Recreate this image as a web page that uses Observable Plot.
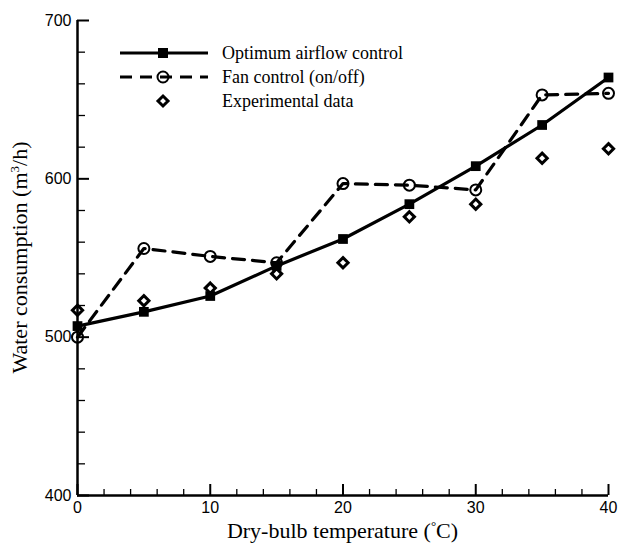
<!DOCTYPE html>
<html>
<head>
<meta charset="utf-8">
<script src="https://cdn.jsdelivr.net/npm/d3@7"></script>
<script src="https://cdn.jsdelivr.net/npm/@observablehq/plot@0.6"></script>
<style>
  html, body { margin: 0; padding: 0; background: #fff; }
  #chart svg { display: block; }
</style>
</head>
<body>
<div id="chart"></div>
<script>
// Data
const temperatures = [0, 5, 10, 15, 20, 25, 30, 35, 40];
const optimumAirflow = [507, 516, 526, 545, 562, 584, 608, 634, 664];
const fanControl = [500, 556, 551, 547, 597, 596, 593, 653, 654];
const experimental = [517, 523, 531, 540, 547, 576, 584, 613, 619];

const xTickLabels = [0, 10, 20, 30, 40];
const yTickLabels = [400, 500, 600, 700];
const xMinorTicks = d3.range(0, 41, 2).filter(v => v % 10 !== 0);
const yMinorTicks = d3.range(400, 701, 20).filter(v => v % 100 !== 0);

const seriesNames = ["Optimum airflow control", "Fan control (on/off)", "Experimental data"];
const xTitle = "Dry-bulb temperature";
const yTitle = "Water consumption";

const optRows = temperatures.map((t, i) => ({t, v: optimumAirflow[i]}));
const fanRows = temperatures.map((t, i) => ({t, v: fanControl[i]}));
const expRows = temperatures.map((t, i) => ({t, v: experimental[i]}));

const W = 621, H = 545;
const mL = 77, mR = 13, mT = 20, mB = 50;

const sans = "'Liberation Sans', Arial, sans-serif";
const serif = "'Liberation Serif', 'Times New Roman', serif";

const chart = Plot.plot({
  width: W,
  height: H,
  marginLeft: mL,
  marginRight: mR,
  marginTop: mT,
  marginBottom: mB,
  style: {fontFamily: sans, fontSize: "16px", color: "black", background: "white"},
  x: {domain: [0, 40]},
  y: {domain: [400, 700]},
  marks: [
    // tick labels
    Plot.axisX(xTickLabels, {tickSize: 0, tickPadding: 6, fontSize: 16, label: null}),
    Plot.axisY(yTickLabels, {tickSize: 0, tickPadding: 6, fontSize: 16, label: null}),
    // inward ticks
    Plot.axisX(xTickLabels, {tickSize: -11, text: null, strokeWidth: 2, label: null}),
    Plot.axisX(xMinorTicks, {tickSize: -6, text: null, strokeWidth: 1.3, label: null}),
    Plot.axisY(yTickLabels, {tickSize: -12, text: null, strokeWidth: 2, label: null}),
    Plot.axisY(yMinorTicks, {tickSize: -8, text: null, strokeWidth: 1.3, label: null}),
    // axis lines
    Plot.ruleX([0], {stroke: "black", strokeWidth: 2.5}),
    Plot.ruleY([400], {stroke: "black", strokeWidth: 2.5}),
    // series
    Plot.line(optRows, {x: "t", y: "v", stroke: "black", strokeWidth: 3.2}),
    Plot.line(fanRows, {x: "t", y: "v", stroke: "black", strokeWidth: 3.2, strokeDasharray: "12,8"}),
    Plot.dot(optRows, {x: "t", y: "v", symbol: "square", fill: "black", r: 5.5}),
    Plot.dot(fanRows, {x: "t", y: "v", symbol: "circle", fill: "none", stroke: "black", strokeWidth: 2, r: 5.5}),
    Plot.dot(expRows, {x: "t", y: "v", symbol: "diamond2", fill: "none", stroke: "black", strokeWidth: 3, r: 4.6})
  ]
});

document.getElementById("chart").appendChild(chart);

// Axis titles and legend
const svg = d3.select(chart);

const xt = svg.append("text")
  .attr("x", (mL + (W - mR)) / 2)
  .attr("y", 538)
  .attr("text-anchor", "middle")
  .style("font-family", serif)
  .style("font-size", "22px")
  .attr("fill", "black");
xt.append("tspan").text(xTitle + " (");
xt.append("tspan").attr("dy", -8).style("font-size", "13px").text("°");
xt.append("tspan").attr("dy", 8).text("C)");

const yt = svg.append("text")
  .attr("transform", `translate(27,${(mT + (H - mB)) / 2}) rotate(-90)`)
  .attr("text-anchor", "middle")
  .style("font-family", serif)
  .style("font-size", "22px")
  .attr("fill", "black");
yt.append("tspan").text(yTitle + " (m");
yt.append("tspan").attr("dy", -8).style("font-size", "13px").text("3");
yt.append("tspan").attr("dy", 8).text("/h)");

const legendRows = [53, 77, 101];
const lx1 = 120, lx2 = 208, lxm = 163, ltx = 222;
const lg = svg.append("g").attr("text-anchor", "start");
// row 1: solid line + square
lg.append("line").attr("x1", lx1).attr("x2", lx2).attr("y1", legendRows[0]).attr("y2", legendRows[0])
  .attr("stroke", "black").attr("stroke-width", 3.2);
lg.append("rect").attr("x", lxm - 5).attr("y", legendRows[0] - 5).attr("width", 10).attr("height", 10).attr("fill", "black");
// row 2: dashed line + circle
lg.append("line").attr("x1", lx1).attr("x2", lx2).attr("y1", legendRows[1]).attr("y2", legendRows[1])
  .attr("stroke", "black").attr("stroke-width", 3.2).attr("stroke-dasharray", "12,8");
lg.append("circle").attr("cx", lxm).attr("cy", legendRows[1]).attr("r", 5.5)
  .attr("fill", "none").attr("stroke", "black").attr("stroke-width", 2);
// row 3: diamond
lg.append("path").attr("d", `M${lxm},${legendRows[2] - 5}L${lxm + 5},${legendRows[2]}L${lxm},${legendRows[2] + 5}L${lxm - 5},${legendRows[2]}Z`)
  .attr("fill", "none").attr("stroke", "black").attr("stroke-width", 3);
seriesNames.forEach((name, i) => {
  lg.append("text").attr("x", ltx).attr("y", legendRows[i]).attr("dy", "0.35em")
    .attr("text-anchor", "start")
    .style("font-family", serif).style("font-size", "18px").attr("fill", "black").text(name);
});
</script>
</body>
</html>
